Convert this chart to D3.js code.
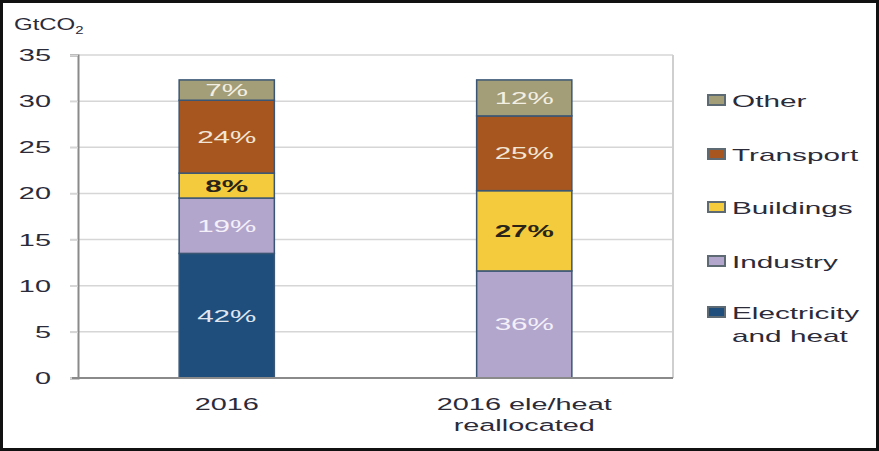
<!doctype html>
<meta charset="utf-8">
<script src="https://d3js.org/d3.v7.min.js"></script>
<style>
  body { margin: 0; background: #fff; }
  text { font-family: "Liberation Sans", Arial, sans-serif; }
</style>
<body>
</body>
<script>
// data
var categories = ["2016", "2016 ele/heat reallocated"];
var catLines = [["2016"], ["2016 ele/heat", "reallocated"]];
var sectors = ["Electricity and heat", "Industry", "Buildings", "Transport", "Other"];
var legendLines = [["Electricity", "and heat"], ["Industry"], ["Buildings"], ["Transport"], ["Other"]];
var values2016 = [13.5, 6.0, 2.7, 7.9, 2.2];
var valuesRealloc = [0, 11.6, 8.7, 8.1, 3.9];
var yTicks = [0, 5, 10, 15, 20, 25, 30, 35];

var colors = ["#1f4e7c", "#b3a6cc", "#f4cb3c", "#a8561f", "#a39d78"];
var labelColors = ["#dfe6f0", "#f4f0fa", "#2a2418", "#f1e6d6", "#f3efe2"];

var W = 879, H = 451;
var svg = d3.select("body").append("svg").attr("width", W).attr("height", H);

// outer frame
svg.append("rect").attr("x", 1.5).attr("y", 1.5).attr("width", W - 3).attr("height", H - 3)
   .attr("fill", "#fff").attr("stroke", "#111").attr("stroke-width", 3);

var x0 = 78, x1 = 673, yTop = 55, yBot = 378;
var y = d3.scaleLinear().domain([0, 35]).range([yBot, yTop]);
var x = d3.scaleBand().domain(categories).range([x0, x1]).paddingInner(0.68).paddingOuter(0.34);

// the picture's text is stretched sideways
function stretched(g, tx, ty, str, anchor, sx) {
  return g.append("text")
     .attr("transform", "translate(" + tx + "," + ty + ") scale(" + (sx || 1.7) + ",1)")
     .attr("text-anchor", anchor || "middle")
     .text(str);
}

// grid
svg.append("g").selectAll("line").data(yTicks.filter(function(d){ return d > 0; }))
  .enter().append("line")
  .attr("x1", 70).attr("x2", x1)
  .attr("y1", function(d){ return y(d); }).attr("y2", function(d){ return y(d); })
  .attr("stroke", "#d6d6d6").attr("stroke-width", 1.5);

// right frame line
svg.append("line").attr("x1", x1).attr("x2", x1).attr("y1", yTop).attr("y2", yBot)
   .attr("stroke", "#cfcfcf").attr("stroke-width", 2);

// y axis
var yAxis = svg.append("g").attr("transform", "translate(" + x0 + ",0)")
   .call(d3.axisLeft(y).tickValues(yTicks).tickSize(8).tickPadding(0).tickFormat(""));
yAxis.select(".domain").attr("stroke", "#8a8a8a").attr("stroke-width", 2);
yAxis.selectAll(".tick line").attr("stroke", "#d6d6d6").attr("stroke-width", 1.5);
var yl = svg.append("g").attr("fill", "#2b2b3a").attr("font-size", 17);
yTicks.forEach(function(t){ stretched(yl, 51, y(t) + 6, String(t), "end"); });

// unit
var unit = svg.append("text").attr("transform", "translate(14,30) scale(1.5,1)")
   .attr("fill", "#2b2b3a").attr("font-size", 16);
unit.append("tspan").text("GtCO");
unit.append("tspan").attr("font-size", 10).attr("dy", 4).text("2");

// bars
var rows = categories.map(function(c, i){
  var r = { cat: c };
  var vals = i === 0 ? values2016 : valuesRealloc;
  sectors.forEach(function(s, j){ r[s] = vals[j]; });
  return r;
});
var stack = d3.stack().keys(sectors)(rows);
var barG = svg.append("g");
stack.forEach(function(layer, j){
  layer.forEach(function(d){
    if (d[1] - d[0] <= 0) return;
    barG.append("rect")
      .attr("x", x(d.data.cat)).attr("width", x.bandwidth())
      .attr("y", y(d[1])).attr("height", y(d[0]) - y(d[1]))
      .attr("fill", colors[j]).attr("stroke", "#3b5675").attr("stroke-width", 1.5);
  });
});
// percentage labels
var lg = svg.append("g").attr("font-size", 16);
stack.forEach(function(layer, j){
  layer.forEach(function(d){
    var v = d[1] - d[0];
    if (v <= 0) return;
    var total = d3.sum(sectors, function(s){ return d.data[s]; });
    stretched(lg, x(d.data.cat) + x.bandwidth() / 2, (y(d[0]) + y(d[1])) / 2 + 6,
              Math.round(v / total * 100) + "%", "middle", 1.85)
      .attr("fill", labelColors[j]).attr("font-weight", j === 2 ? "bold" : null);
  });
});

// baseline
svg.append("line").attr("x1", 72).attr("x2", x1).attr("y1", yBot).attr("y2", yBot)
   .attr("stroke", "#8a8a8a").attr("stroke-width", 2);

// category labels
var cl = svg.append("g").attr("fill", "#2b2b3a").attr("font-size", 17);
categories.forEach(function(c, i){
  catLines[i].forEach(function(line, k){
    stretched(cl, x(c) + x.bandwidth() / 2, 410 + k * 21, line);
  });
});

// legend
var legY = [313, 262, 208, 155, 101];
var leg = svg.append("g").attr("fill", "#2b2b3a").attr("font-size", 17);
sectors.forEach(function(s, j){
  leg.append("rect").attr("x", 708).attr("y", legY[j] - 6).attr("width", 17).attr("height", 10)
     .attr("fill", colors[j]).attr("stroke", "#5d6a74").attr("stroke-width", 2);
  legendLines[j].forEach(function(line, k){
    stretched(leg, 732, legY[j] + 6 + k * 23, line, "start", 1.75);
  });
});
</script>
